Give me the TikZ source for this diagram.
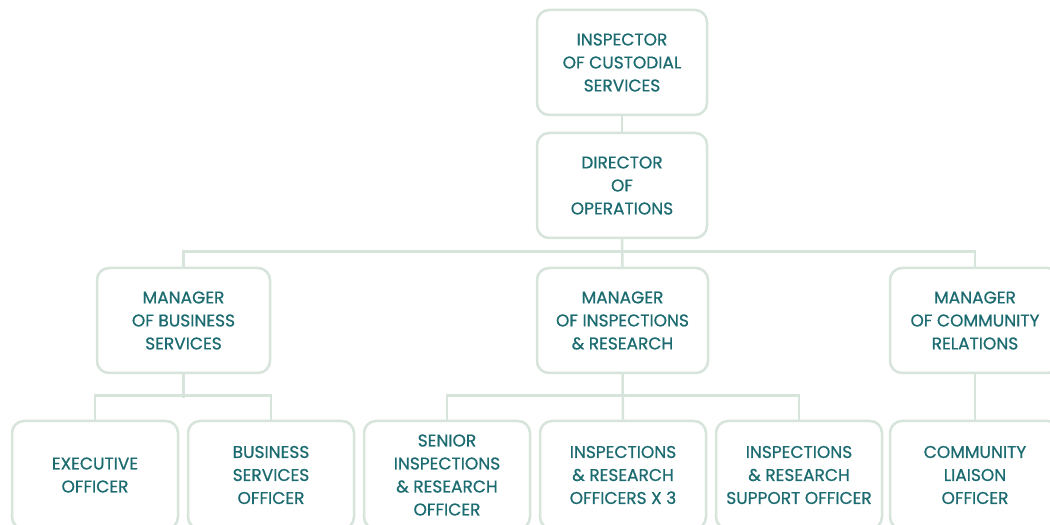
\documentclass[tikz,border=0pt]{standalone}
\usepackage{fontspec}
\setmainfont{Poppins}[FakeBold=0.6]
\definecolor{boxtext}{HTML}{1B6B70}
\definecolor{boxline}{HTML}{D6E4DB}

\begin{document}
\begin{tikzpicture}[x=1pt,y=1pt]

      \useasboundingbox (0,0) rectangle (1050,525);

      \begin{scope}[every node/.style={draw=boxline,line width=2.5pt,fill=white,
          rounded corners=12pt,align=center,text=boxtext,
          font=\fontsize{17}{23}\selectfont\addfontfeature{FakeBold=0.7},inner sep=0pt}]
        \node[minimum width=170,minimum height=105] (ics) at (622,462.5) {INSPECTOR\\OF CUSTODIAL\\SERVICES};
        \node[minimum width=170,minimum height=105] (dop) at (622,339.5) {DIRECTOR\\OF\\OPERATIONS};
        \node[minimum width=173,minimum height=105] (mbs) at (183.5,204.5) {MANAGER\\OF BUSINESS\\SERVICES};
        \node[minimum width=171,minimum height=105] (mir) at (622.5,204.5) {MANAGER\\OF INSPECTIONS\\\& RESEARCH};
        \node[minimum width=170,minimum height=105] (mcr) at (975,204.5) {MANAGER\\OF COMMUNITY\\RELATIONS};
        \node[minimum width=166,minimum height=108] (eo)  at (95,50)  {EXECUTIVE\\OFFICER};
        \node[minimum width=166,minimum height=108] (bso) at (271,50) {BUSINESS\\SERVICES\\OFFICER};
        \node[minimum width=166,minimum height=108] (sir) at (447,50) {SENIOR\\INSPECTIONS\\\& RESEARCH\\OFFICER};
        \node[minimum width=166,minimum height=108] (iro) at (623,50) {INSPECTIONS\\\& RESEARCH\\OFFICERS X 3};
        \node[minimum width=166,minimum height=108] (irs) at (799,50) {INSPECTIONS\\\& RESEARCH\\SUPPORT OFFICER};
        \node[minimum width=170,minimum height=108] (clo) at (975,50) {COMMUNITY\\LIAISON\\OFFICER};
      \end{scope}

      \begin{scope}[draw=boxline,line width=2.5pt]
        \draw (ics.south) -- (dop.north);
        \draw (dop.south) -- (mir.north);
        \draw (mbs.north) -- ++(0,15) -| (mcr.north);
        \draw (mbs.south) -- ++(0,-24);
        \draw (eo.north)  -- ++(0,24) -| (bso.north);
        \draw (mir.south) -- (iro.north);
        \draw (sir.north) -- ++(0,24) -| (irs.north);
        \draw (mcr.south) -- (clo.north);
      \end{scope}

    \end{tikzpicture}
\end{document}
